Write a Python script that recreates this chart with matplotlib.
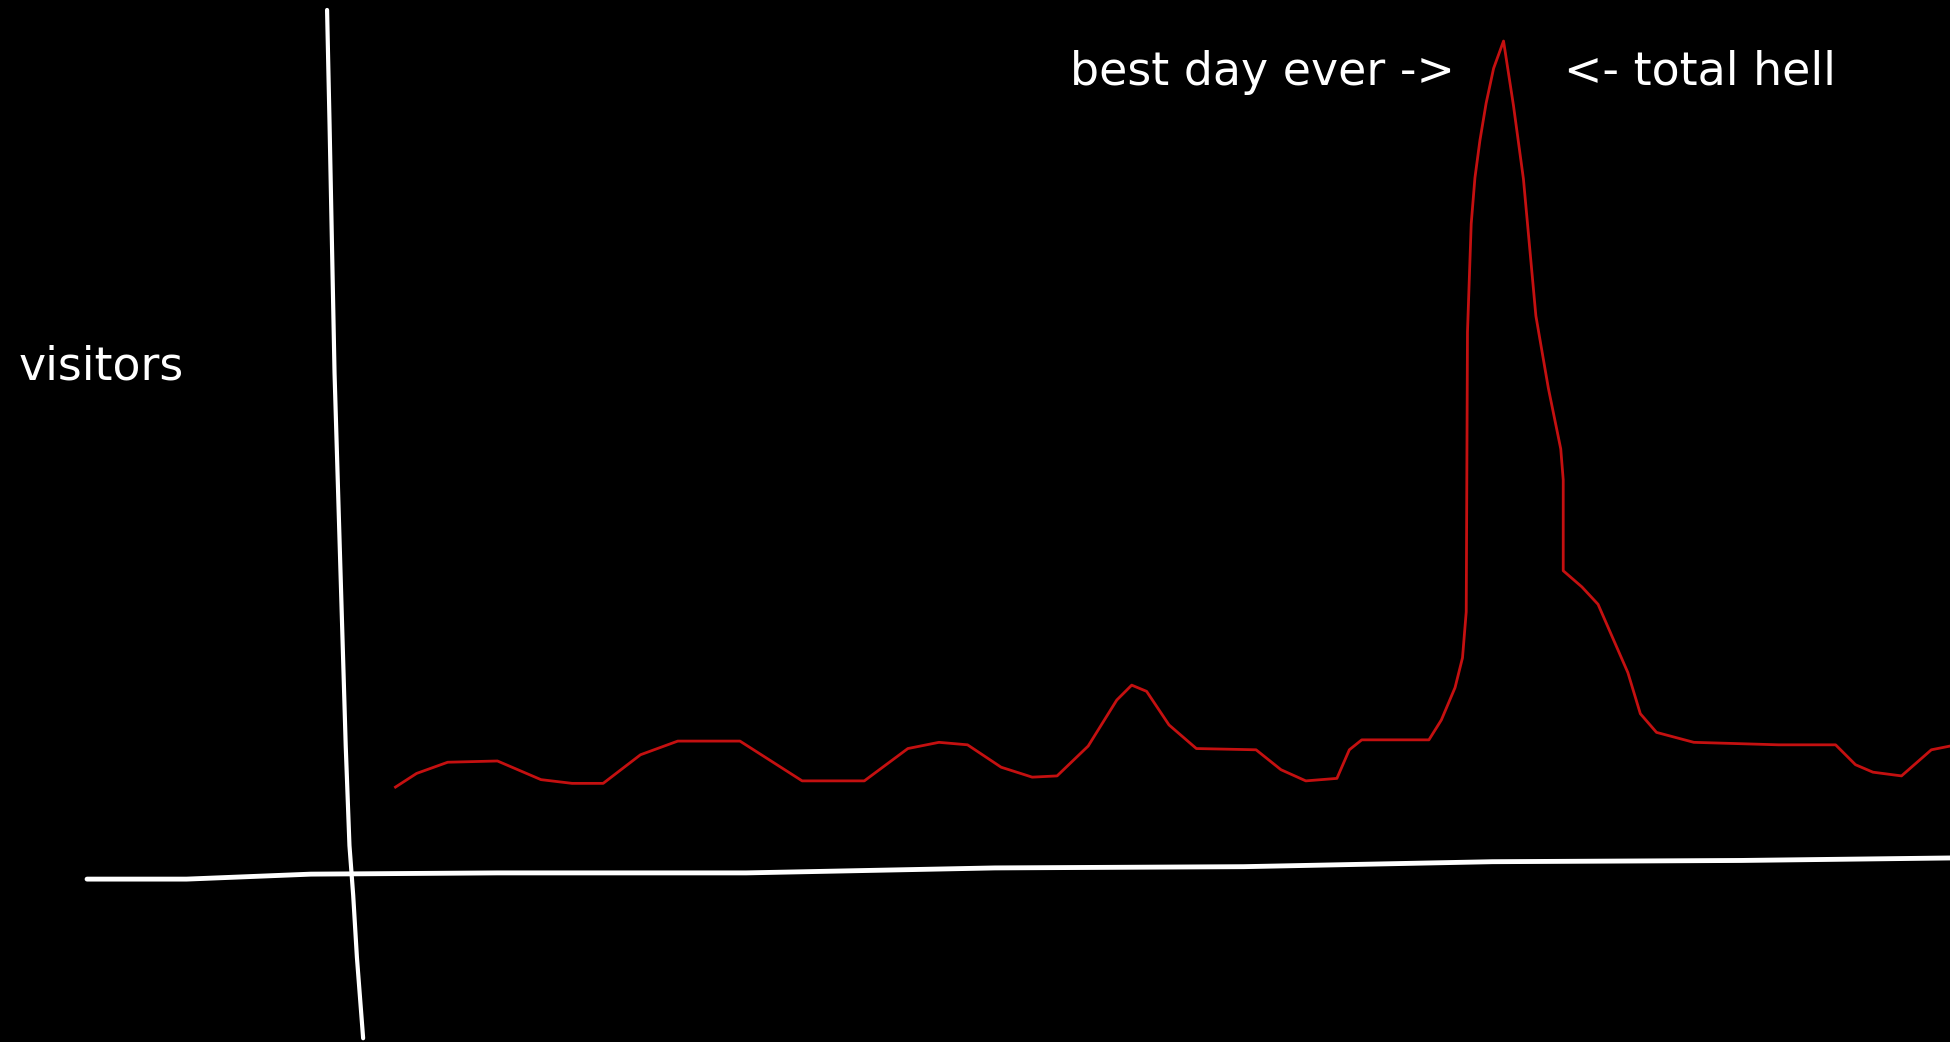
import matplotlib.pyplot as plt

# hand-drawn traffic curve (day position, visitors above the x axis)
days = [318, 335, 360, 400, 435, 460, 485, 515, 545, 595, 645, 695, 730, 755, 778,
        805, 830, 850, 875, 898, 910, 922, 940, 962, 1010, 1030, 1050, 1075, 1085,
        1095, 1149, 1159, 1170, 1176, 1179, 1180, 1183, 1186, 1190, 1195, 1201, 1209,
        1217, 1225, 1235, 1245, 1255, 1257, 1257, 1272, 1285, 1309, 1319, 1332,
        1362, 1430, 1476, 1492, 1506, 1529, 1553, 1568]
visitors = [70, 81, 90, 91, 76, 73, 73, 96, 107, 107, 75, 75, 101, 106, 104,
            86, 78, 79, 103, 140, 152, 147, 120, 101, 100, 84, 75, 77, 100,
            108, 108, 124, 150, 174, 211, 436, 523, 560, 590, 620, 648, 670,
            618, 559, 449, 391, 342, 317, 244, 231, 217, 162, 129, 114,
            106, 104, 104, 88, 82, 79, 100, 103]

# hand-drawn axis strokes
yaxis_days = [263, 265, 267, 269, 272, 275, 278, 281, 284, 287, 292]
yaxis_vals = [695, 603, 503, 403, 303, 203, 103, 23, -17, -67, -132]
xaxis_days = [70, 150, 250, 400, 600, 800, 1000, 1200, 1400, 1568]
xaxis_vals = [-4, -4, 0, 1, 1, 5, 6, 10, 11, 13]

labels = ['visitors', 'best day ever ->', '<- total hell']

fig = plt.figure(figsize=(19.5, 10.42), dpi=100, facecolor='black')
ax = fig.add_axes([0, 0, 1, 1])
ax.set_facecolor('black')
ax.set_xlim(0, 1568)
ax.set_ylim(-135, 703)
ax.axis('off')

ax.plot(yaxis_days, yaxis_vals, color='white', lw=3, solid_capstyle='round')
ax.plot(xaxis_days, xaxis_vals, color='white', lw=3.5, solid_capstyle='round')
ax.plot(days, visitors, color='#c41010', lw=2, solid_joinstyle='round')

ax.text(15, 408, labels[0], color='white', fontsize=33, va='center', ha='left')
ax.text(860, 645, labels[1], color='white', fontsize=33, va='center', ha='left')
ax.text(1258, 645, labels[2], color='white', fontsize=33, va='center', ha='left')

fig.savefig('out.png', dpi=100, facecolor='black')
